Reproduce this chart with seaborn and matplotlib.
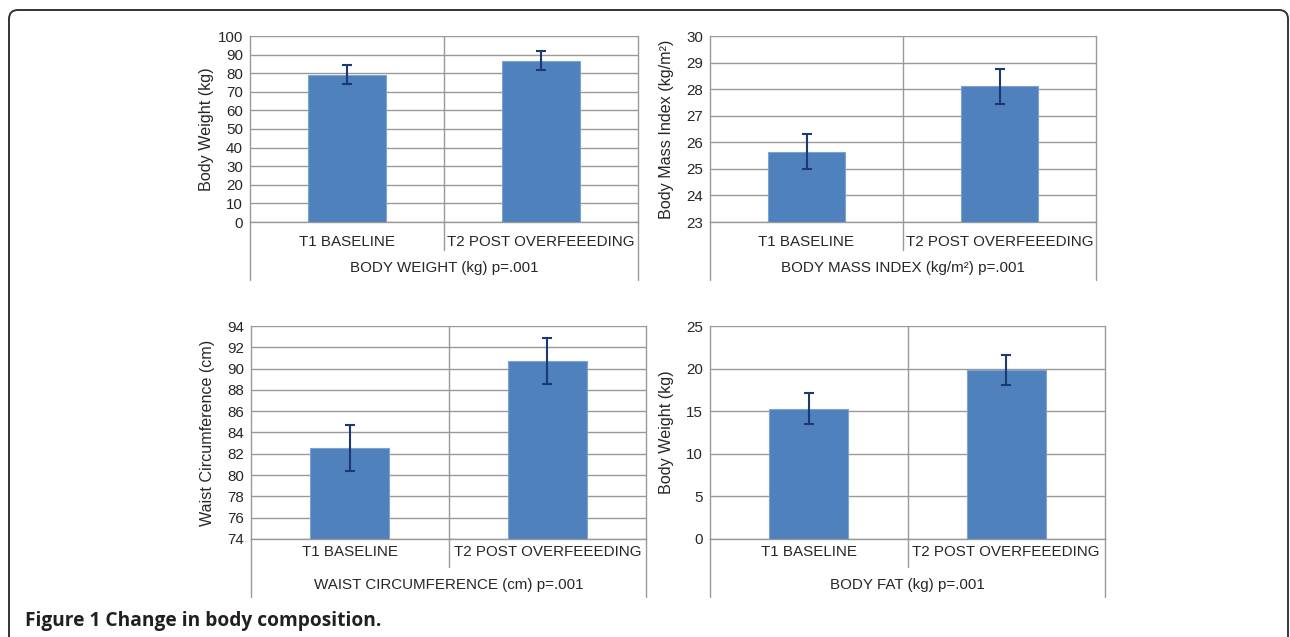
import matplotlib
matplotlib.use('Agg')
import matplotlib.pyplot as plt
from matplotlib.patches import FancyBboxPatch
from matplotlib.lines import Line2D
import seaborn as sns
import numpy as np

# data
categories = ['T1 BASELINE', 'T2 POST OVERFEEEDING']
weight_vals = [79.3, 86.8]
weight_err = [5.0, 5.0]
bmi_vals = [25.65, 28.1]
bmi_err = [0.65, 0.66]
waist_vals = [82.55, 90.75]
waist_err = [2.15, 2.15]
fat_vals = [15.3, 19.85]
fat_err = [1.8, 1.8]

ylabels = ['Body Weight (kg)', 'Body Mass Index (kg/m²)',
           'Waist Circumference (cm)', 'Body Weight (kg)']
group_titles = ['BODY WEIGHT (kg) p=.001', 'BODY MASS INDEX (kg/m²) p=.001',
                'WAIST CIRCUMFERENCE (cm) p=.001', 'BODY FAT (kg) p=.001']
yticks = [np.arange(0, 101, 10), np.arange(23, 31, 1),
          np.arange(74, 95, 2), np.arange(0, 26, 5)]

sns.set_style('white')
plt.rcParams['font.family'] = ['Liberation Sans', 'DejaVu Sans']

W, H = 1290, 637
fig = plt.figure(figsize=(W / 100, H / 100), dpi=100)

BAR = '#4F81BD'
ERR = '#1B3A75'
GRID = '#999999'
FS = 10.9

# (left, right, top, bottom) in pixels
boxes = [(250, 638, 36, 222), (710, 1096, 36, 222),
         (251, 646, 326, 539), (710, 1105, 326, 539)]
cat_pad = [13, 13, 6, 6]
series = [(weight_vals, weight_err), (bmi_vals, bmi_err),
          (waist_vals, waist_err), (fat_vals, fat_err)]


def panel(i):
    l, r, t, b = boxes[i]
    ax = fig.add_axes([l / W, 1 - b / H, (r - l) / W, (b - t) / H])
    vals, errs = series[i]
    sns.barplot(x=categories, y=vals, ax=ax, color=BAR, width=0.4,
                saturation=1, edgecolor='#7FA3D1', linewidth=0.8, zorder=3)
    ax.errorbar(range(len(vals)), vals, yerr=errs, fmt='none', ecolor=ERR,
                elinewidth=1.5, capsize=3.5, capthick=1.5, zorder=4)
    ax.set_xlim(-0.5, 1.5)
    ax.set_ylim(yticks[i][0], yticks[i][-1])
    ax.set_yticks(yticks[i])
    ax.yaxis.grid(True, color=GRID, linewidth=1.0)
    ax.set_axisbelow(True)
    ax.axvline(0.5, color=GRID, linewidth=1.0, zorder=1)
    for s in ['left', 'right', 'bottom']:
        ax.spines[s].set_color(GRID)
        ax.spines[s].set_linewidth(1.0)
    ax.spines['top'].set_visible(False)
    ax.tick_params(axis='y', length=3, color=GRID, labelsize=FS, pad=2)
    ax.tick_params(axis='x', length=0, labelsize=FS, pad=cat_pad[i] / 1.39)
    ax.set_ylabel(ylabels[i], fontsize=11.6)
    ax.yaxis.set_label_coords(-36 / (r - l), 0.5)
    ax.set_xlabel('')

    # multi-level category axis below the plot
    hpx = b - t
    for x, depth in [(0.0, 58), (0.5, 28), (1.0, 58)]:
        ax.add_line(Line2D([x, x], [0, -depth / hpx], transform=ax.transAxes,
                           color=GRID, linewidth=1.0, clip_on=False))
    ax.text(0.5, -46 / hpx, group_titles[i], transform=ax.transAxes,
            ha='center', va='center', fontsize=FS)
    return ax


for i in range(4):
    panel(i)

# rounded frame of the figure
frame = FancyBboxPatch((9, -40), 1279, H - 10 + 40,
                       boxstyle='round,pad=0,rounding_size=9',
                       transform=None, facecolor='none', edgecolor='#333333',
                       linewidth=1.4)
fig.patches.append(frame)

fig.text(25 / W, 1 - 621 / H, 'Figure 1 Change in body composition.',
         fontsize=13.8, fontweight='bold', color='#231F20',
         family=['Open Sans', 'DejaVu Sans'], va='center', ha='left')

fig.savefig('out.png', dpi=100)
